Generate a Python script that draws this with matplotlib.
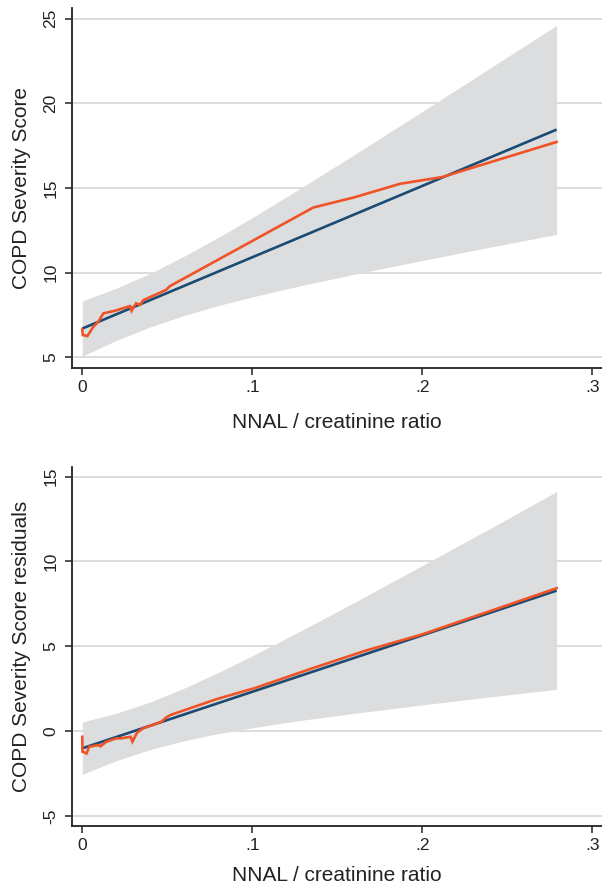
import numpy as np
import matplotlib.pyplot as plt

plt.rcParams['font.family'] = ['Liberation Sans', 'DejaVu Sans']

# top panel: COPD Severity Score vs NNAL / creatinine ratio
ci_x = [0, 0.02, 0.04, 0.06, 0.08, 0.10, 0.128, 0.16, 0.20, 0.24, 0.279]
top_ci_hi = [8.33, 9.08, 9.96, 10.98, 12.08, 13.25, 14.96, 16.97, 19.52, 22.09, 24.6]
top_ci_lo = [5.07, 6.0, 6.8, 7.48, 8.06, 8.57, 9.22, 9.91, 10.72, 11.51, 12.26]
fit_x = [0, 0.279]
top_fit = [6.7, 18.45]
top_low_x = [0.0, 0.0003, 0.003, 0.0065, 0.0094, 0.0124, 0.0192, 0.028, 0.029,
             0.0316, 0.034, 0.0359, 0.0457, 0.0492, 0.0516, 0.1359, 0.16, 0.187,
             0.2124, 0.222, 0.279]
top_low_y = [6.65, 6.32, 6.26, 6.81, 7.1, 7.6, 7.75, 8.03, 7.75,
             8.19, 8.1, 8.38, 8.82, 8.98, 9.21, 13.85, 14.45, 15.25,
             15.66, 15.97, 17.72]

# bottom panel: residuals
bot_ci_hi = [0.53, 1.05, 1.71, 2.53, 3.45, 4.43, 5.88, 7.58, 9.76, 11.95, 14.12]
bot_ci_lo = [-2.55, -1.75, -1.09, -0.57, -0.15, 0.19, 0.62, 1.04, 1.54, 2.01, 2.46]
bot_fit = [-1.02, 8.28]
bot_low_x = [0.0, 0.0001, 0.0025, 0.004, 0.0093, 0.0107, 0.0142, 0.0201, 0.023,
             0.0284, 0.0295, 0.0322, 0.0358, 0.0466, 0.0495, 0.052, 0.079, 0.102,
             0.136, 0.167, 0.2, 0.279]
bot_low_y = [-0.34, -1.22, -1.32, -0.93, -0.83, -0.9, -0.63, -0.43, -0.43,
             -0.34, -0.63, -0.1, 0.16, 0.55, 0.81, 0.95, 1.88, 2.55,
             3.72, 4.75, 5.7, 8.42]

x_ticks = [0, 0.1, 0.2, 0.3]
x_labels = ['0', '.1', '.2', '.3']

band_col = '#dcdddf'
fit_col = '#1b4a72'
low_col = '#ef5326'
grid_col = '#d9d9d9'

fig = plt.figure(figsize=(6.02, 8.85), dpi=100)
ax1 = fig.add_axes([0.1204, 0.5845, 0.8796, 0.4061])
ax2 = fig.add_axes([0.1204, 0.0667, 0.8796, 0.4060])

panels = [
    (ax1, top_ci_lo, top_ci_hi, top_fit, top_low_x, top_low_y,
     (4.39, 25.61), [5, 10, 15, 20, 25], 'COPD Severity Score', 13),
    (ax2, bot_ci_lo, bot_ci_hi, bot_fit, bot_low_x, bot_low_y,
     (-5.6, 15.59), [-5, 0, 5, 10, 15], 'COPD Severity Score residuals', 9),
]

for ax, lo, hi, fit, lx, ly, ylim, yt, ylab, xpad in panels:
    ax.fill_between(ci_x, lo, hi, color=band_col, linewidth=0, zorder=2)
    ax.plot(fit_x, fit, color=fit_col, lw=1.9, zorder=3, solid_capstyle='butt')
    ax.plot(lx, ly, color=low_col, lw=1.9, zorder=4, solid_joinstyle='miter')
    ax.set_xlim(-0.00576, 0.3057)
    ax.set_ylim(*ylim)
    ax.set_yticks(yt)
    ax.set_yticklabels([str(v) for v in yt], rotation=90, va='center')
    ax.set_xticks(x_ticks)
    ax.set_xticklabels(x_labels)
    ax.yaxis.grid(True, color=grid_col, lw=1.3, zorder=1)
    ax.set_axisbelow(True)
    for s in ['top', 'right']:
        ax.spines[s].set_visible(False)
    for s in ['left', 'bottom']:
        ax.spines[s].set_linewidth(1.3)
        ax.spines[s].set_color('#222222')
    ax.tick_params(axis='both', length=5, width=1.1, color='#222222',
                   labelsize=12.5, labelcolor='#222222')
    ax.tick_params(axis='y', pad=5)
    ax.tick_params(axis='x', pad=4)
    ax.set_xlabel('NNAL / creatinine ratio', fontsize=15, color='#222222', labelpad=xpad)
    ax.set_ylabel(ylab, fontsize=15, color='#222222', labelpad=9)

fig.savefig('out.png', dpi=100)
